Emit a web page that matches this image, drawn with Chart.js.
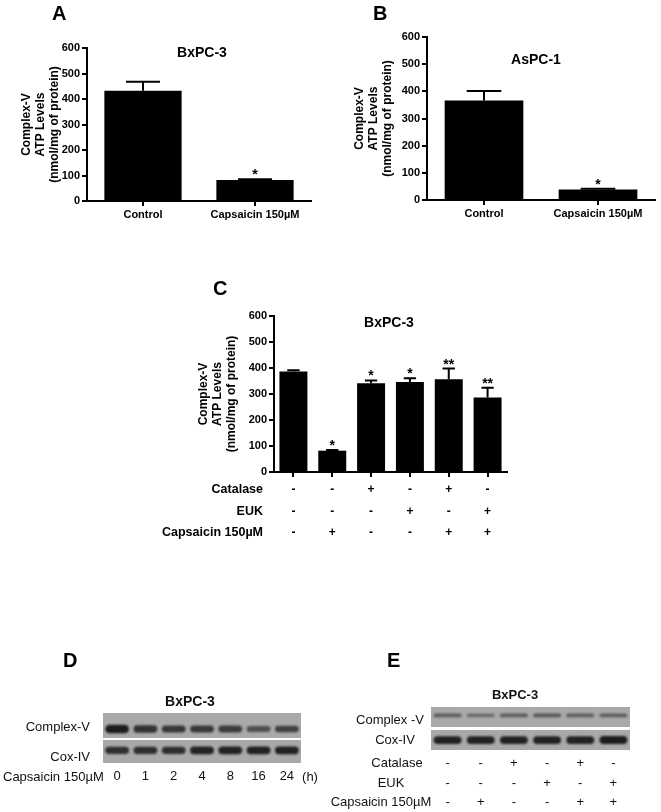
<!DOCTYPE html>
<html>
<head>
<meta charset="utf-8">
<script src="https://cdn.jsdelivr.net/npm/chart.js@4.4.0/dist/chart.umd.min.js"></script>
<style>
  html, body { margin: 0; padding: 0; background: #fff; }
  #fig { position: relative; width: 661px; height: 812px; overflow: hidden; }
  #fig canvas { position: absolute; }
  .panel { position: absolute; font: bold 20px "Liberation Sans", Arial, sans-serif; line-height: 1; color: #000; }
</style>
</head>
<body>
<div id="fig">
  <canvas id="chartA" width="330" height="235" style="left:0;top:0"></canvas>
  <canvas id="chartB" width="331" height="235" style="left:330px;top:0"></canvas>
  <canvas id="chartC" width="661" height="290" style="left:0;top:270px"></canvas>
  <canvas id="blotD" width="330" height="172" style="left:0;top:640px"></canvas>
  <canvas id="blotE" width="331" height="172" style="left:330px;top:640px"></canvas>
  <div class="panel" style="left:52px;top:3px">A</div>
  <div class="panel" style="left:373px;top:3px">B</div>
  <div class="panel" style="left:213px;top:278px">C</div>
  <div class="panel" style="left:63px;top:650px">D</div>
  <div class="panel" style="left:387px;top:650px">E</div>
</div>
<script>
    'use strict';

    // ---- data ----
    const yMin = 0;
    const yMax = 600;
    const yStep = 100;
    const yTitleLines = ['Complex-V', 'ATP Levels', '(nmol/mg of protein)'];

    const twoGroupLabels = ['Control', 'Capsaicin 150µM'];

    const bxpcValues = [432, 82];
    const bxpcErrors = [36, 3];
    const bxpcStars = ['', '*'];

    const aspcValues = [366, 39];
    const aspcErrors = [35, 2];
    const aspcStars = ['', '*'];

    const catalaseRow = ['-', '-', '+', '-', '+', '-'];
    const eukRow = ['-', '-', '-', '+', '-', '+'];
    const capsaicinRow = ['-', '+', '-', '-', '+', '+'];
    const treatRowNames = ['Catalase', 'EUK', 'Capsaicin 150µM'];
    const treatValues = [387, 82, 341, 346, 357, 287];
    const treatErrors = [4, 3, 11, 15, 41, 37];
    const treatStars = ['', '*', '*', '*', '**', '**'];

    const blotDHours = ['0', '1', '2', '4', '8', '16', '24'];
    const blotDComplexV = [1.0, 0.8, 0.75, 0.75, 0.72, 0.55, 0.68];
    const blotDCoxIV = [0.85, 0.85, 0.85, 0.95, 0.95, 0.95, 0.95];
    const blotEComplexV = [0.42, 0.36, 0.42, 0.48, 0.42, 0.42];
    const blotECoxIV = [0.95, 0.95, 0.95, 0.95, 0.95, 1.0];

    const FONT = '"Liberation Sans", Arial, Helvetica, sans-serif';
    Chart.defaults.font.family = FONT;
    Chart.defaults.color = '#000';
    Chart.defaults.animation = false;
    Chart.defaults.plugins.legend.display = false;
    Chart.defaults.plugins.tooltip.enabled = false;

    // label centre of row r of a multi-line x tick label
    function tickRowY(scale, r) {
        const t = scale.options.ticks;
        const tl = scale.options.grid.drawTicks ? scale.options.grid.tickLength : 0;
        const lh = t.font.size * t.font.lineHeight;
        return scale.top + tl + t.padding + lh * (r + 0.5);
    }

    const errorBars = {
        id: 'errorBars',
        afterDatasetsDraw(chart, args, opts) {
            const ctx = chart.ctx;
            const y = chart.scales.y;
            const values = chart.data.datasets[0].data;
            ctx.save();
            ctx.strokeStyle = '#000';
            ctx.fillStyle = '#000';
            ctx.lineWidth = 2;
            chart.getDatasetMeta(0).data.forEach(function (bar, i) {
                const top = y.getPixelForValue(values[i] + opts.errors[i]);
                const half = bar.width * 0.22;
                ctx.beginPath();
                ctx.moveTo(bar.x, bar.y);
                ctx.lineTo(bar.x, top);
                ctx.moveTo(bar.x - half, top);
                ctx.lineTo(bar.x + half, top);
                ctx.stroke();
                if (opts.stars[i]) {
                    ctx.font = 'bold 14px ' + FONT;
                    ctx.textAlign = 'center';
                    ctx.textBaseline = 'alphabetic';
                    ctx.fillText(opts.stars[i], bar.x, top);
                }
            });
            ctx.restore();
        }
    };

    const panelDecor = {
        id: 'panelDecor',
        afterDraw(chart, args, opts) {
            const ctx = chart.ctx;
            const area = chart.chartArea;
            ctx.save();
            ctx.fillStyle = '#000';
            ctx.textAlign = 'center';
            ctx.textBaseline = 'middle';
            ctx.font = 'bold 14px ' + FONT;
            ctx.fillText(opts.title, opts.titleX, opts.titleY);

            ctx.font = 'bold 12px ' + FONT;
            const cy = (area.top + area.bottom) / 2;
            yTitleLines.forEach(function (line, i) {
                ctx.save();
                ctx.translate(opts.yTitleX[i], cy);
                ctx.rotate(-Math.PI / 2);
                ctx.fillText(line, 0, 0);
                ctx.restore();
            });

            if (opts.rowNames) {
                ctx.font = 'bold 12.5px ' + FONT;
                ctx.textAlign = 'right';
                opts.rowNames.forEach(function (name, r) {
                    ctx.fillText(name, opts.rowNameX, tickRowY(chart.scales.x, r));
                });
            }
            ctx.restore();
        }
    };

    function barPanel(id, cfg) {
        return new Chart(document.getElementById(id), {
            type: 'bar',
            data: {
                labels: cfg.labels,
                datasets: [{
                    data: cfg.values,
                    backgroundColor: '#000',
                    borderWidth: 0,
                    barPercentage: cfg.barPct,
                    categoryPercentage: 1
                }]
            },
            options: {
                responsive: false,
                layout: { padding: cfg.padding },
                scales: {
                    x: {
                        afterFit: function (s) { s.height = cfg.xHeight; },
                        border: { display: true, color: '#000', width: 2 },
                        grid: { display: true, offset: false, drawOnChartArea: false, drawTicks: true, tickLength: 5, color: '#000', lineWidth: 2 },
                        ticks: { font: { size: cfg.xFont, weight: 'bold', lineHeight: cfg.xLine }, padding: 2, maxRotation: 0, autoSkip: false }
                    },
                    y: {
                        min: yMin,
                        max: yMax,
                        afterFit: function (s) { s.width = 40; },
                        border: { display: true, color: '#000', width: 2 },
                        grid: { display: true, drawOnChartArea: false, drawTicks: true, tickLength: 5, color: '#000', lineWidth: 2 },
                        ticks: { stepSize: yStep, font: { size: 11, weight: 'bold' }, padding: 2 }
                    }
                },
                plugins: {
                    errorBars: { errors: cfg.errors, stars: cfg.stars },
                    panelDecor: cfg.decor
                }
            },
            plugins: [errorBars, panelDecor]
        });
    }

    barPanel('chartA', {
        labels: twoGroupLabels, values: bxpcValues, errors: bxpcErrors, stars: bxpcStars,
        barPct: 0.69, xFont: 11, xLine: 1.2, xHeight: 25,
        padding: { left: 47, right: 19, top: 48, bottom: 9 },
        decor: { title: 'BxPC-3', titleX: 202, titleY: 53, yTitleX: [27, 41, 55] }
    });

    barPanel('chartB', {
        labels: twoGroupLabels, values: aspcValues, errors: aspcErrors, stars: aspcStars,
        barPct: 0.69, xFont: 11, xLine: 1.2, xHeight: 25,
        padding: { left: 57, right: 6, top: 37, bottom: 10 },
        decor: { title: 'AsPC-1', titleX: 206, titleY: 60, yTitleX: [30, 44, 58] }
    });

    const treatLabels = catalaseRow.map(function (c, i) {
        return [c, eukRow[i], capsaicinRow[i]];
    });

    barPanel('chartC', {
        labels: treatLabels, values: treatValues, errors: treatErrors, stars: treatStars,
        barPct: 0.72, xFont: 12, xLine: 1.8, xHeight: 70,
        padding: { left: 234, right: 154, top: 46, bottom: 18 },
        decor: { title: 'BxPC-3', titleX: 389, titleY: 53, yTitleX: [204, 218, 232],
                 rowNames: treatRowNames, rowNameX: 263 }
    });

    // ---- western blots ----
    const blotPanel = {
        id: 'blotPanel',
        beforeDatasetsDraw(chart, args, opts) {
            const ctx = chart.ctx;
            const area = chart.chartArea;
            const xs = chart.scales.x;
            const lane = (area.right - area.left) / chart.data.labels.length;
            let top = area.top;
            ctx.save();
            opts.strips.forEach(function (strip) {
                ctx.fillStyle = '#a9a9a9';
                ctx.fillRect(area.left, top, area.right - area.left, strip.height);
                ctx.filter = 'blur(1.2px)';
                strip.bands.forEach(function (v, i) {
                    const cx = xs.getPixelForValue(i);
                    const w = lane * 0.84;
                    const h = strip.minH + strip.gainH * v;
                    const cy = top + strip.height * strip.bandPos;
                    ctx.fillStyle = 'rgba(28,28,28,' + (0.2 + 0.8 * v) + ')';
                    ctx.beginPath();
                    if (ctx.roundRect) ctx.roundRect(cx - w / 2, cy - h / 2, w, h, h / 2);
                    else ctx.ellipse(cx, cy, w / 2, h / 2, 0, 0, Math.PI * 2);
                    ctx.fill();
                });
                ctx.filter = 'none';
                top += strip.height + strip.gap;
            });

            ctx.fillStyle = '#111';
            ctx.textBaseline = 'middle';
            ctx.font = 'bold ' + opts.titleSize + 'px ' + FONT;
            ctx.textAlign = 'center';
            ctx.fillText('BxPC-3', opts.titleX, opts.titleY);
            ctx.font = '13px ' + FONT;
            opts.texts.forEach(function (t) {
                ctx.textAlign = t.align;
                ctx.fillText(t.text, t.x, t.y);
            });
            if (opts.rowNames) {
                opts.rowNames.forEach(function (name, r) {
                    ctx.textAlign = 'center';
                    ctx.fillText(name, opts.rowNameX[r], tickRowY(xs, r));
                });
            }
            ctx.restore();
        }
    };

    function blotChart(id, cfg) {
        return new Chart(document.getElementById(id), {
            type: 'bar',
            data: { labels: cfg.labels, datasets: [] },
            options: {
                responsive: false,
                layout: { padding: cfg.padding },
                scales: {
                    x: {
                        afterFit: function (s) { s.height = cfg.xHeight; },
                        border: { display: false },
                        grid: { display: false, drawTicks: false },
                        ticks: { font: { size: 13, lineHeight: cfg.xLine }, color: '#111', padding: cfg.tickPad, maxRotation: 0, autoSkip: false }
                    },
                    y: { display: false }
                },
                plugins: { blotPanel: cfg.blot }
            },
            plugins: [blotPanel]
        });
    }

    blotChart('blotD', {
        labels: blotDHours, xLine: 1.2, xHeight: 22, tickPad: 6,
        padding: { left: 103, right: 29, top: 73, bottom: 27 },
        blot: {
            titleX: 190, titleY: 62, titleSize: 14,
            strips: [
                { height: 25, gap: 2, bandPos: 0.64, minH: 2.5, gainH: 6, bands: blotDComplexV },
                { height: 23, gap: 0, bandPos: 0.45, minH: 3, gainH: 5, bands: blotDCoxIV }
            ],
            texts: [
                { text: 'Complex-V', x: 90, y: 87, align: 'right' },
                { text: 'Cox-IV', x: 90, y: 117, align: 'right' },
                { text: 'Capsaicin 150µM', x: 3, y: 137, align: 'left' },
                { text: '(h)', x: 310, y: 137, align: 'center' }
            ]
        }
    });

    blotChart('blotE', {
        labels: treatLabels, xLine: 1.5, xHeight: 62, tickPad: 4,
        padding: { left: 101, right: 31, top: 67, bottom: 0 },
        blot: {
            titleX: 185, titleY: 55, titleSize: 13,
            strips: [
                { height: 20, gap: 3, bandPos: 0.42, minH: 2, gainH: 4, bands: blotEComplexV },
                { height: 20, gap: 0, bandPos: 0.5, minH: 3, gainH: 5, bands: blotECoxIV }
            ],
            texts: [
                { text: 'Complex -V', x: 60, y: 80, align: 'center' },
                { text: 'Cox-IV', x: 65, y: 100, align: 'center' }
            ],
            rowNames: treatRowNames, rowNameX: [67, 61, 51]
        }
    });
</script>
</body>
</html>
